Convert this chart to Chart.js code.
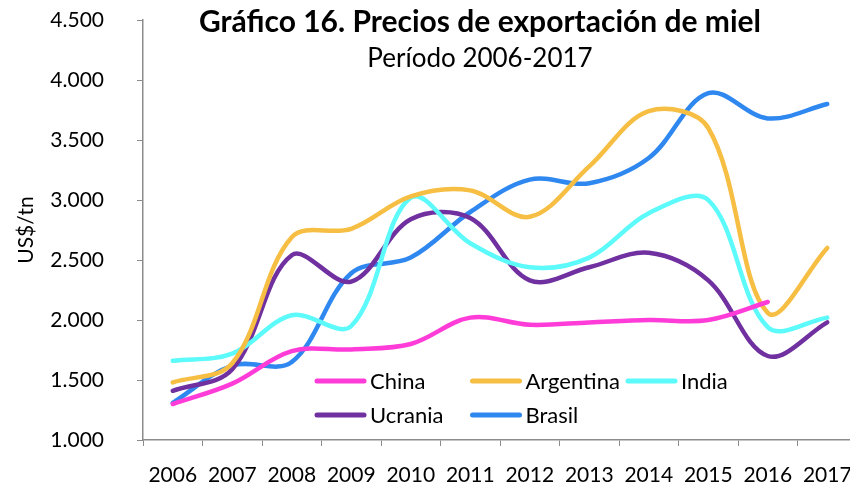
<!DOCTYPE html>
<html>
<head>
<meta charset="utf-8">
<script src="https://cdn.jsdelivr.net/npm/chart.js@4"></script>
<style>
    html, body { margin: 0; padding: 0; background: #fff; overflow: hidden; }
    .graph { position: relative; width: 870px; height: 482px; }
</style>
</head>
<body>
<div class="graph"><canvas id="miel--chart"></canvas></div>
<script>
"use strict";

const years = ['2006', '2007', '2008', '2009', '2010', '2011', '2012', '2013', '2014', '2015', '2016', '2017'];
const china = [1300, 1470, 1740, 1755, 1800, 2020, 1960, 1980, 2000, 2000, 2150, null];
const argentina = [1480, 1640, 2690, 2760, 3030, 3080, 2860, 3280, 3740, 3600, 2060, 2600];
const india = [1660, 1720, 2040, 1950, 3020, 2640, 2440, 2520, 2890, 3000, 1940, 2020];
const ucrania = [1410, 1590, 2540, 2320, 2840, 2850, 2330, 2440, 2560, 2330, 1700, 1980];
const brasil = [1310, 1620, 1650, 2390, 2520, 2900, 3170, 3140, 3350, 3890, 3680, 3800];

const titleText = 'Gráfico 16. Precios de exportación de miel';
const subtitleText = 'Período 2006-2017';
const FONT = 'Lato, "Open Sans", sans-serif';

function serie(label, data, color) {
    return {
        label: label,
        data: data,
        borderColor: color,
        backgroundColor: color,
        borderWidth: 4.5,
        borderCapStyle: 'round',
        pointRadius: 0,
        fill: false,
        tension: 0.35
    };
}

// title + in-plot legend drawn on top of the chart
const overlay = {
    id: 'overlay',
    afterDraw(chart) {
        const ctx = chart.ctx;
        ctx.save();
        ctx.fillStyle = '#000';
        ctx.textAlign = 'center';
        ctx.textBaseline = 'alphabetic';
        ctx.font = 'bold 30px ' + FONT;
        ctx.fillText(titleText, 480, 32);
        ctx.font = '26px ' + FONT;
        ctx.fillText(subtitleText, 480, 67);

        ctx.textAlign = 'left';
        ctx.textBaseline = 'middle';
        ctx.font = '22px ' + FONT;
        chart.data.datasets.forEach((ds, i) => {
            const col = i < 3 ? i : i - 3;
            const row = i < 3 ? 0 : 1;
            const x0 = 317 + col * 155.5;
            const y = 381 + row * 34;
            ctx.strokeStyle = ds.borderColor;
            ctx.lineWidth = 5;
            ctx.lineCap = 'round';
            ctx.beginPath();
            ctx.moveTo(x0, y);
            ctx.lineTo(x0 + 47, y);
            ctx.stroke();
            ctx.fillText(ds.label, x0 + 53, y + 1);
        });
        ctx.restore();
    }
};

const ctx = document.getElementById('miel--chart').getContext('2d');

new Chart(ctx, {
    type: 'line',
    data: {
        labels: years,
        datasets: [
            serie('China', china, '#FF3CD8'),
            serie('Argentina', argentina, '#F6BE43'),
            serie('India', india, '#5CFAFA'),
            serie('Ucrania', ucrania, '#7030A0'),
            serie('Brasil', brasil, '#2F88F0')
        ]
    },
    options: {
        responsive: true,
        maintainAspectRatio: false,
        animation: false,
        layout: { padding: { top: 20, right: 13, left: 0, bottom: 0 } },
        plugins: {
            legend: { display: false },
            tooltip: { enabled: false }
        },
        scales: {
            x: {
                offset: true,
                grid: { offset: true, drawOnChartArea: false, tickLength: 6, color: '#8c8c8c' },
                border: { color: '#8c8c8c', width: 1.5 },
                ticks: { color: '#000', padding: 17, maxRotation: 0, autoSkip: false, font: { family: FONT, size: 21 } },
                afterFit: function (scale) {
                    scale.height = 42;
                    scale.paddingLeft = 0;
                    scale.paddingRight = 0;
                }
            },
            y: {
                min: 1000,
                max: 4500,
                grid: { drawOnChartArea: false, tickLength: 6, color: '#8c8c8c' },
                border: { color: '#8c8c8c', width: 1.5 },
                ticks: {
                    stepSize: 500,
                    color: '#000',
                    padding: 33,
                    font: { family: FONT, size: 21 },
                    callback: function (v) { return String(v).replace(/\B(?=(\d{3})+(?!\d))/g, '.'); }
                },
                title: {
                    display: true,
                    text: 'US$/tn',
                    color: '#000',
                    padding: { top: 14, bottom: 0 },
                    font: { family: FONT, size: 21 }
                },
                afterFit: function (scale) {
                    scale.width = 143;
                    scale.paddingTop = 0;
                    scale.paddingBottom = 0;
                }
            }
        }
    },
    plugins: [overlay]
});
</script>
</body>
</html>
